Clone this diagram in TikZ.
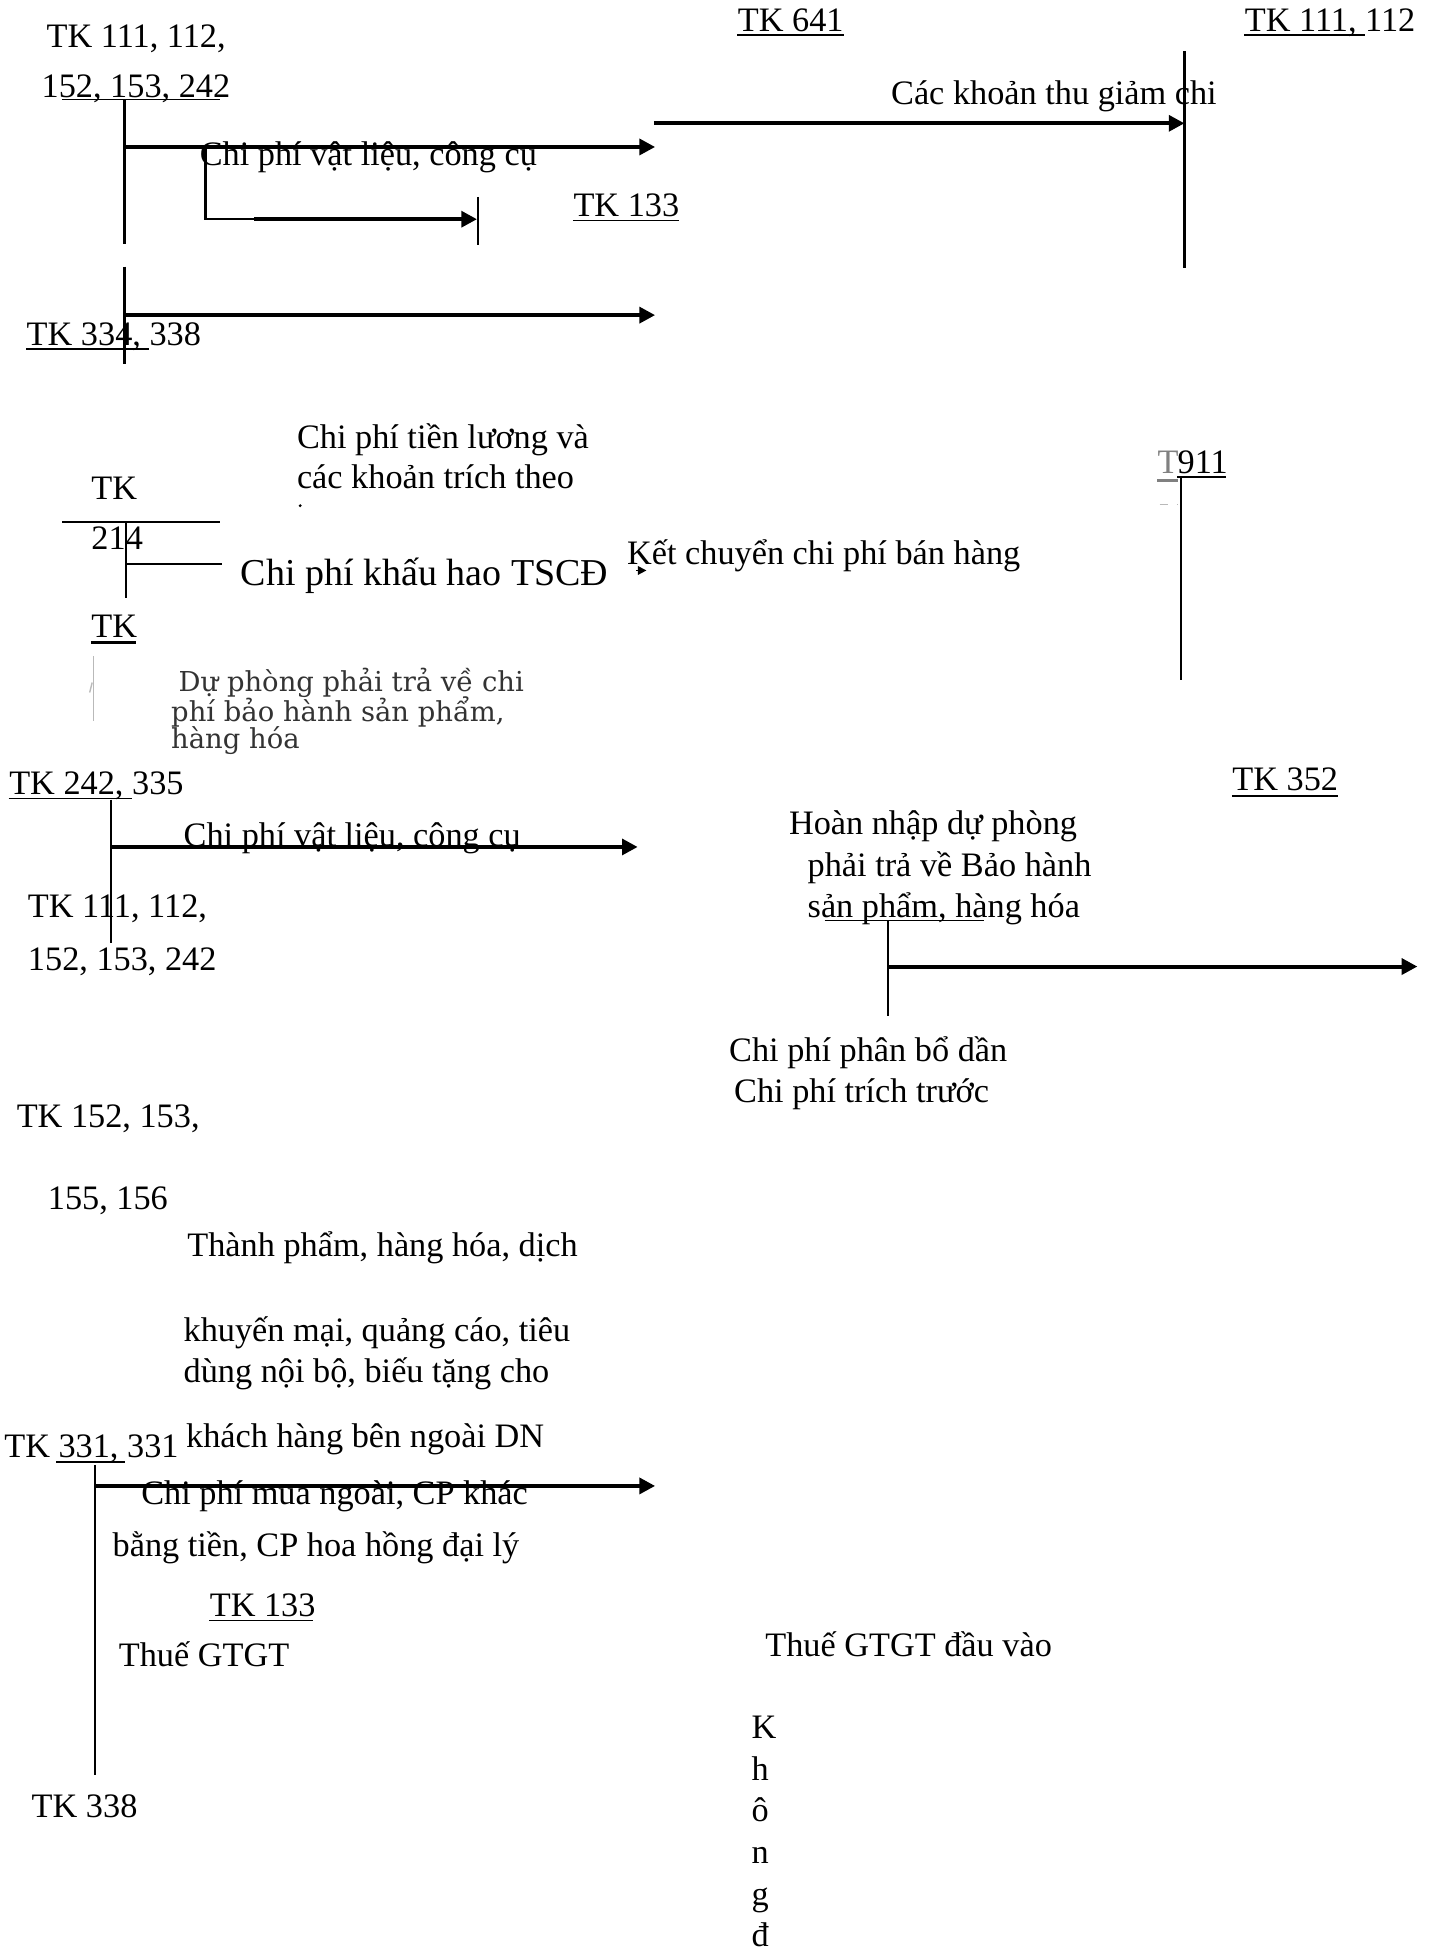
\documentclass[tikz,border=0pt]{standalone}
\usepackage{fontspec}
\setmainfont{Liberation Serif}
\newfontfamily\dvfont{DejaVu Serif}
\usetikzlibrary{arrows.meta}

\begin{document}
\begin{tikzpicture}[
    x=0.436pt, y=-0.436pt,
    every node/.style={font=\fontsize{12}{14}\selectfont, inner sep=0pt, anchor=base west},
    acct/.style={line width=0.8pt},
    uline/.style={line width=0.6pt},
    flow/.style={line width=1.4pt, -{Triangle[length=5.5pt,width=5.5pt]}},
    faint/.style={gray!55, line width=0.5pt},
    big/.style={font=\fontsize{13.3}{15}\selectfont},
    blur/.style={font=\dvfont\fontsize{9.6}{11}\selectfont, text=black!80},
]
\useasboundingbox (0,0) rectangle (1147,1568);

% === TK 111, 112, 152, 153, 242 (top left) ===
\node (tkA1) at (37,38) {TK 111, 112,};
\node (tkA2) at (33,78) {152, 153, 242};
\draw[uline] (50,80) -- (177,80);
\draw[acct] (100,80) -- (100,196);
\coordinate (fA1) at (100,118);
\coordinate (fA2) at (526,118);
\draw[flow] (fA1) -- (fA2);
\node (lbVL1) at (160,133) {Chi phí vật liệu, công cụ};

% branch into TK 133
\coordinate (bA1) at (165,118);
\coordinate (bA2) at (165,176);
\coordinate (bA3) at (204,176);
\coordinate (bA4) at (383,176);
\draw[acct] (bA1) -- (bA2) -- (bA3);
\draw[flow] (bA3) -- (bA4);
\draw[acct] (384,158) -- (384,197);
\node (tk133a) at (460,174) {TK 133};
\draw[uline] (460,177) -- (545,177);

% === TK 334, 338 ===
\draw[acct] (100,214) -- (100,292);
\coordinate (fB1) at (100,253);
\coordinate (fB2) at (526,253);
\draw[flow] (fB1) -- (fB2);
\node (tk334) at (21,277) {TK 334, 338};
\draw[uline] (21,280) -- (120,280);

% === TK 641 and TK 111, 112 (top right) ===
\node (tk641) at (592,25) {TK 641};
\draw[uline] (592,28) -- (678,28);
\node (tkC) at (999,25) {TK 111, 112};
\draw[uline] (999,28) -- (1096,28);
\draw[acct] (951,41) -- (951,215);
\coordinate (fC1) at (525,99);
\coordinate (fC2) at (951,99);
\draw[flow] (fC1) -- (fC2);
\node (lbGiam) at (715,84) {Các khoản thu giảm chi};

% === Tiền lương, TK 214 ===
\node (lbLuong1) at (238,360) {Chi phí tiền lương và};
\node (lbLuong2) at (238,392) {các khoản trích theo};
\fill (241,406) circle (1.3);
\node (tk214a) at (73,401) {TK};
\draw[acct] (50,419) -- (177,419);
\node (tk214b) at (73,441) {214};
\draw[acct] (101,419) -- (101,480);
\draw[acct] (101,453) -- (178,453);
\node[big] (lbKhau) at (193,470) {Chi phí khấu hao TSCĐ};

% kết chuyển sang TK 911
\coordinate (kc1) at (511,458);
\coordinate (kc2) at (519,458);
\draw[line width=0.6pt, -{Triangle[length=3pt,width=3pt]}] (kc1) -- (kc2);
\node (lbKet) at (503,453) {Kết chuyển chi phí bán hàng};
\node[text=gray] (tk911a) at (929,380) {T};
\draw[gray, line width=1pt] (929,386) -- (946,386);
\node (tk911b) at (945,380) {911};
\draw[uline] (945,383) -- (984,383);
\draw[acct] (948,383) -- (948,546);
\draw[faint, dashed] (931,405) -- (945,405);

% === TK 352 (dự phòng) ===
\node (tkD) at (73,512) {TK};
\draw[line width=1pt] (73,516) -- (109,516);
\draw[faint] (75,527) -- (75,579);
\draw[faint] (72,556) -- (74,548);
\node[blur] (lbDu1) at (143,555) {Dự phòng phải trả về chi};
\node[blur] (lbDu2) at (137,579) {phí bảo hành sản phẩm,};
\node[blur] (lbDu3) at (137,601) {hàng hóa};

% === TK 242, 335 ===
\node (tk242) at (7,638) {TK 242, 335};
\draw[uline] (7,641) -- (106,641);
\draw[acct] (89,642) -- (89,757);
\coordinate (fE1) at (89,680);
\coordinate (fE2) at (512,680);
\draw[flow] (fE1) -- (fE2);
\node (lbVL2) at (147,680) {Chi phí vật liệu, công cụ};
\node (tkE1) at (22,737) {TK 111, 112,};
\node (tkE2) at (22,779) {152, 153, 242};

% === TK 352 (hoàn nhập) ===
\node (tk352) at (989,635) {TK 352};
\draw[uline] (989,639) -- (1074,639);
\node (lbHoan1) at (633,670) {Hoàn nhập dự phòng};
\node (lbHoan2) at (648,704) {phải trả về Bảo hành};
\node (lbHoan3) at (648,737) {sản phẩm, hàng hóa};
\draw[uline] (662,739) -- (790,739);
\draw[acct] (713,739) -- (713,816);
\coordinate (fF1) at (713,776);
\coordinate (fF2) at (1138,776);
\draw[flow] (fF1) -- (fF2);
\node (lbPhan) at (585,852) {Chi phí phân bổ dần};
\node (lbTrich) at (589,885) {Chi phí trích trước};

% === TK 152, 153, 155, 156 ===
\node (tkG1) at (13,905) {TK 152, 153,};
\node (tkG2) at (38,971) {155, 156};
\node (lbTP1) at (150,1009) {Thành phẩm, hàng hóa, dịch};
\node (lbTP2) at (147,1077) {khuyến mại, quảng cáo, tiêu};
\node (lbTP3) at (147,1110) {dùng nội bộ, biếu tặng cho};
\node (lbTP4) at (149,1162) {khách hàng bên ngoài DN};

% === TK 331 ===
\node (tk331) at (3,1170) {TK 331, 331};
\draw[uline] (45,1174) -- (100,1174);
\draw[acct] (76,1176) -- (76,1425);
\coordinate (fH1) at (76,1193);
\coordinate (fH2) at (526,1193);
\draw[flow] (fH1) -- (fH2);
\node (lbMua1) at (113,1208) {Chi phí mua ngoài, CP khác};
\node (lbMua2) at (90,1250) {bằng tiền, CP hoa hồng đại lý};
\node (tk133b) at (168,1298) {TK 133};
\draw[uline] (168,1301) -- (251,1301);
\node (lbThue) at (95,1338) {Thuế GTGT};
\node (tk338) at (25,1459) {TK 338};
\node (lbThueDV) at (614,1330) {Thuế GTGT đầu vào};

% vertical text
\foreach \ch [count=\i from 0] in {K,h,ô,n,g,đ}
    \node (kd\i) at (603,{1396+33.4*\i}) {\ch};

\end{tikzpicture}
\end{document}
